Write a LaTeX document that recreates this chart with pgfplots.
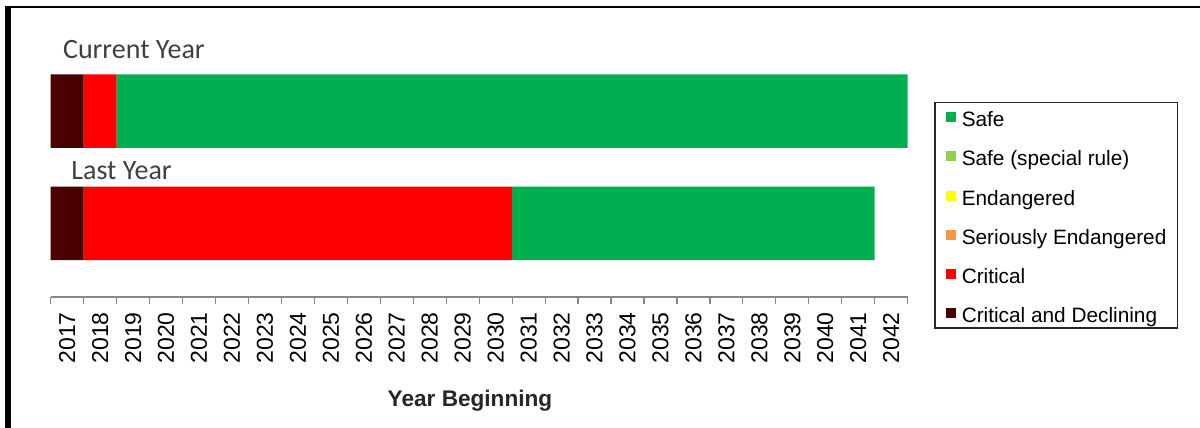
\documentclass[border=0pt]{standalone}
\usepackage{fontspec}
\setmainfont{Liberation Sans}
\newfontfamily\calibri{Carlito}
\usepackage{pgfplots}
\pgfplotsset{compat=1.18}
\definecolor{safe}{HTML}{00B050}
\definecolor{safesp}{HTML}{92D050}
\definecolor{endang}{HTML}{FFFF00}
\definecolor{serend}{HTML}{F79646}
\definecolor{crit}{HTML}{FF0000}
\definecolor{critdec}{HTML}{4B0000}
\definecolor{axgray}{HTML}{868686}
\definecolor{lbl}{HTML}{404040}
\begin{document}
\begin{tikzpicture}
\useasboundingbox (0,0) rectangle (600pt,-214pt);
\fill[white] (0,0) rectangle (600pt,-214pt);
\begin{axis}[
  at={(25.35pt,-148.5pt)}, anchor=south west,
  scale only axis, width=428.5pt, height=121pt,
  xbar stacked, bar width=36.75pt,
  xmin=0, xmax=26, ymin=-0.656, ymax=1.5,
  axis x line*=bottom, axis y line=none,
  x axis line style={draw=axgray, line width=0.6pt, -},
  xtick={0.5,1.5,...,25.5},
  xticklabels={2017,2018,2019,2020,2021,2022,2023,2024,2025,2026,2027,2028,2029,2030,2031,2032,2033,2034,2035,2036,2037,2038,2039,2040,2041,2042},
  major tick length=0pt,
  minor xtick={0,1,...,26},
  minor tick length=3.5pt,
  tick align=outside,
  minor tick style={draw=axgray, line width=0.6pt},
  xticklabel style={yshift=-7.5pt, rotate=90, anchor=east, inner sep=0pt, font=\fontsize{11.5}{12}\selectfont},
  reverse legend,
  legend cell align=left,
  legend style={at={(1.0307,0.8058)}, anchor=north west, draw=black!85, line width=0.75pt,
    inner xsep=5.5pt, inner ysep=2pt, row sep=9.1pt, column sep=3pt,
    font=\fontsize{10.4}{12}\selectfont,
    nodes={inner sep=0pt, text height=10pt, text depth=0.5pt}},
  legend image code/.code={\fill (0pt,-2.5pt) rectangle (5pt,2.5pt);},
]
\addplot[fill=critdec, draw=none] coordinates {(1,1) (1,0)};
\addplot[fill=crit, draw=none] coordinates {(1,1) (13,0)};
\addplot[fill=serend, draw=none] coordinates {(0,1) (0,0)};
\addplot[fill=endang, draw=none] coordinates {(0,1) (0,0)};
\addplot[fill=safesp, draw=none] coordinates {(0,1) (0,0)};
\addplot[fill=safe, draw=none] coordinates {(24,1) (11,0)};
\legend{Critical and Declining,Critical,Seriously Endangered,Endangered,Safe (special rule),Safe}
\end{axis}
\node[anchor=base west, inner sep=0pt, text=lbl, font=\calibri\fontsize{14}{16}\selectfont] at (31.35pt,-29pt) {Current Year};
\node[anchor=base west, inner sep=0pt, text=lbl, font=\calibri\fontsize{14}{16}\selectfont] at (35.5pt,-89.5pt) {Last Year};
\node[anchor=base, inner sep=0pt, text=black!85, font=\bfseries\fontsize{11.3}{13}\selectfont] at (235pt,-203pt) {Year Beginning};
\fill[black] (2.5pt,-3pt) rectangle (5.5pt,-214pt);
\fill[black] (2.5pt,-3pt) rectangle (600pt,-4pt);
\end{tikzpicture}
\end{document}
